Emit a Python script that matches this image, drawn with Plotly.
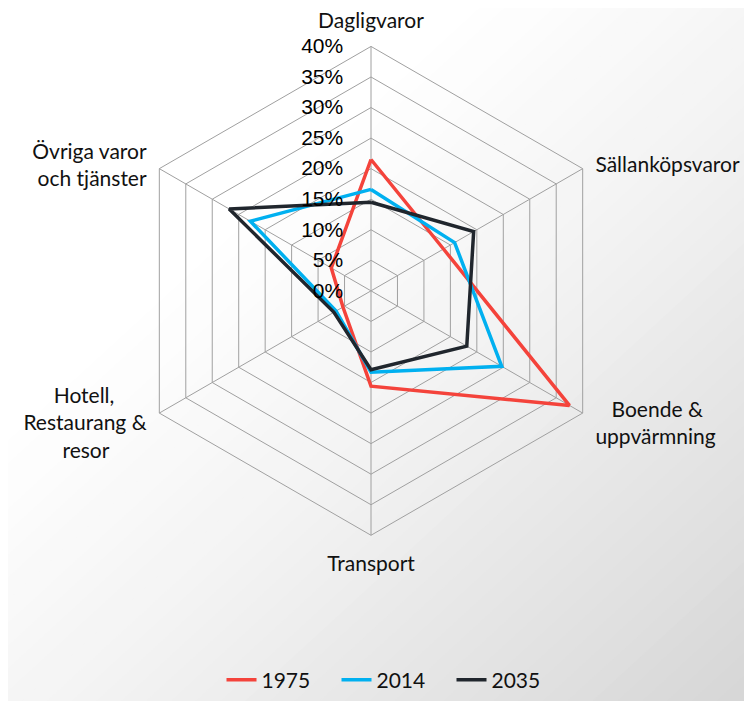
import plotly.graph_objects as go

# ---- data ----
categories = ["Dagligvaror", "Sällanköpsvaror", "Boende & uppvärmning", "Transport",
              "Hotell, Restaurang & resor", "Övriga varor och tjänster"]
category_labels = ["Dagligvaror", "Sällanköpsvaror", "Boende &<br>uppvärmning", "Transport",
                   "Hotell,<br>Restaurang &<br>resor", "Övriga varor<br>och tjänster"]
series_names = ["1975", "2014", "2035"]
v1975 = [0.215, 0.137, 0.375, 0.156, 0.053, 0.075]
v2014 = [0.166, 0.158, 0.247, 0.133, 0.066, 0.228]
v2035 = [0.145, 0.194, 0.181, 0.129, 0.070, 0.268]
radial_tickvals = [0, 0.05, 0.10, 0.15, 0.20, 0.25, 0.30, 0.35, 0.40]
radial_ticktext = ["0%", "5%", "10%", "15%", "20%", "25%", "30%", "35%", "40%"]

colors = ["#F4433B", "#00B0F0", "#20262D"]

# label layout tweaks (blank lines shift the text block, nbsp centres lines)
NB = "&nbsp;"
def pad_lines(label, lead=0, trail=0, lpad=None, rpad=None):
    lines = label.split("<br>")
    if lpad:
        lines = [NB * p + ln for ln, p in zip(lines, lpad)]
    if rpad:
        lines = [ln + NB * p for ln, p in zip(lines, rpad)]
    return "<br>".join([NB] * lead + lines + [NB] * trail)

label_tweaks = [
    dict(),
    dict(lead=1),
    dict(trail=2, lpad=[3, 0]),
    dict(),
    dict(trail=3, rpad=[6, 0, 7]),
    dict(lead=2),
]
ticktext_ang = [pad_lines(l, **t) for l, t in zip(category_labels, label_tweaks)]

# page body has an 8px margin, so the figure is drawn 8px right/down
OFF = 8
W, H = 752 - OFF, 701 - OFF
fig = go.Figure()

for name, vals, col in zip(series_names, [v1975, v2014, v2035], colors):
    fig.add_trace(go.Scatterpolar(
        r=vals + vals[:1],
        theta=categories + categories[:1],
        mode="lines",
        name=name,
        line=dict(color=col, width=3.5),
        hoverinfo="skip",
    ))

# background diagonal gradient (white top-left -> grey bottom-right)
def grey(s):
    if s < 0.3:
        return 255
    if s < 0.55:
        return 255 - (s - 0.3) / 0.25 * 12
    return 243 - (s - 0.55) / 0.45 * 29

shapes = []
N = 60
for i in range(N):
    a = i / N
    c = 2 * a - 1
    g = int(round(grey(a)))
    path = f"M {c-1},-1 L {c+2},2 L 4,2 L 4,-1 Z"
    shapes.append(dict(type="path", xref="paper", yref="paper", path=path,
                       fillcolor=f"rgb({g},{g},{g})", line=dict(width=0), layer="below"))

cx, cy, R = 371 - OFF, 295 - OFF, 248
fig.update_layout(
    width=W, height=H,
    margin=dict(l=0, r=0, t=0, b=0),
    paper_bgcolor="white",
    shapes=shapes,
    polar=dict(
        domain=dict(x=[(cx - R) / W, (cx + R) / W],
                    y=[(H - cy - R) / H, (H - cy + R) / H]),
        bgcolor="rgba(0,0,0,0)",
        gridshape="linear",
        radialaxis=dict(
            range=[0, 0.4],
            angle=90,
            tickangle=90,
            tickvals=radial_tickvals,
            ticktext=radial_ticktext,
            showline=False,
            gridcolor="#A0A0A0",
            gridwidth=1,
            ticks="outside",
            ticklen=20,
            tickcolor="rgba(0,0,0,0)",
            tickfont=dict(family="Liberation Sans", size=21, color="black"),
            side="counterclockwise",
        ),
        angularaxis=dict(
            direction="clockwise",
            rotation=90,
            tickmode="array",
            tickvals=categories,
            ticktext=ticktext_ang,
            showline=True,
            linecolor="#A0A0A0",
            linewidth=1,
            gridcolor="#A0A0A0",
            ticks="outside",
            ticklen=10,
            tickcolor="rgba(0,0,0,0)",
            tickfont=dict(family="Lato", size=21, color="#111111"),
        ),
    ),
    legend=dict(orientation="h", x=(371 + 23 - OFF) / W, xanchor="center",
                y=0.016, yanchor="middle",
                entrywidth=70, entrywidthmode="pixels",
                font=dict(family="Lato", size=21, color="#111111"),
                bgcolor="rgba(0,0,0,0)"),
    showlegend=True,
)

fig.write_html("out.html")
